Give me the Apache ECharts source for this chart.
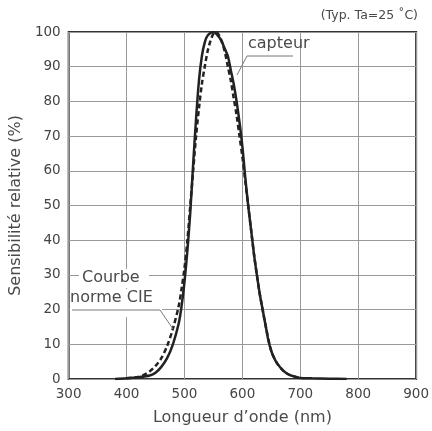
<!DOCTYPE html>
<html><head><meta charset="utf-8">
<script src="https://cdn.jsdelivr.net/npm/echarts@6/dist/echarts.min.js"></script>
<style>html,body{margin:0;padding:0;background:#fff}#c{width:432px;height:431px}</style>
</head><body><div id="c"></div>
<script>
// Wavelength (nm) and relative sensitivity (%)
var capteurNm  = [380,400,420,440,450,460,470,480,490,495,500,505,510,515,520,525,530,535,540,550,560,565,570,575,580,585,590,595,600,605,610,615,620,625,630,635,640,645,650,655,660,670,680,690,700,720,750,780];
var capteurVal = [0,0.2,0.5,1,1.8,3.5,6,10,16,21,28,37,48,62,75,86,93,97,99,100,98.5,97,95,93,89,85,80,74,67,58,50,43,36,30,24.5,20,15.5,11,8,6,4.5,2.5,1.3,0.7,0.3,0.2,0.1,0];
var cieNm  = [400,420,430,440,450,460,470,480,490,495,500,505,510,515,520,525,530,535,540,545,550,555,560,565,570,575,580,585,590,595,600,605,610,615,620,625,630,640,650,660,670,680,690,700];
var cieVal = [0.2,0.6,1.2,2.2,3.8,6,9.5,14.5,21,26,32,40,50,60,70,78,85,90,94.5,97.5,99.5,100,99,97,94,90,86,81,76,70,64,57,50,43,36,30,24.5,15.5,8,4.5,2.5,1.3,0.7,0.3];
var xTicks = [300,400,500,600,700,800,900];
var yTicks = [0,10,20,30,40,50,60,70,80,90,100];

function pairs(xs, ys){ return xs.map(function(x,i){ return [x, ys[i]]; }); }

var chart = echarts.init(document.getElementById('c'));
var txt = '#4a4a4a';
var font = 'DejaVu Sans, sans-serif';
chart.setOption({
  animation:false,
  grid:{left:66,right:14,top:32,bottom:47,show:true,borderColor:'#333',borderWidth:2,backgroundColor:'transparent'},
  xAxis:{type:'value',min:xTicks[0],max:xTicks[xTicks.length-1],interval:100,
    axisLine:{show:false},axisTick:{show:false},
    axisLabel:{color:'#444',fontSize:13.5,fontFamily:font,margin:8},
    splitLine:{lineStyle:{color:'#999',width:1}},
    name:'Longueur d\u2019onde (nm)',nameLocation:'middle',nameGap:31,
    nameTextStyle:{color:txt,fontSize:16,fontFamily:font}},
  yAxis:{type:'value',min:yTicks[0],max:yTicks[yTicks.length-1],interval:10,
    axisLine:{show:false},axisTick:{show:false},
    axisLabel:{color:'#444',fontSize:13.5,fontFamily:font,margin:8},
    splitLine:{lineStyle:{color:'#999',width:1}},
    name:'Sensibilit\u00e9 relative (%)',nameLocation:'middle',nameGap:35,
    nameTextStyle:{color:txt,fontSize:16,fontFamily:font}},
  series:[
    {name:'capteur',type:'line',smooth:0.3,showSymbol:false,data:pairs(capteurNm,capteurVal),
     lineStyle:{color:'#222',width:2.5},z:3},
    {name:'CIE',type:'line',smooth:0.3,showSymbol:false,data:pairs(cieNm,cieVal),
     lineStyle:{color:'#222',width:2.5,type:[5,3]},z:2}
  ],
  graphic:[
    {type:'text',right:14,top:9,z:100,style:{text:'(Typ. Ta=25 \u02daC)',fill:txt,fontSize:12.5,fontFamily:font}},
    {type:'text',left:248,top:36,z:100,style:{text:'capteur',fill:txt,fontSize:16,fontFamily:font}},
    {type:'polyline',z:100,shape:{points:[[293,56],[247,56],[237,75]]},style:{stroke:'#777',lineWidth:1,fill:null}},
    {type:'rect',z:99,shape:{x:79,y:269,width:70,height:19},style:{fill:'#fff'}},
    {type:'rect',z:99,shape:{x:70,y:289,width:92,height:28},style:{fill:'#fff'}},
    {type:'text',left:82,top:270,z:100,style:{text:'Courbe',fill:txt,fontSize:16,fontFamily:font}},
    {type:'text',left:70,top:290,z:100,style:{text:'norme CIE',fill:txt,fontSize:16,fontFamily:font}},
    {type:'polyline',z:100,shape:{points:[[72,310],[160,310],[173,329]]},style:{stroke:'#777',lineWidth:1,fill:null}}
  ]
});
</script></body></html>
